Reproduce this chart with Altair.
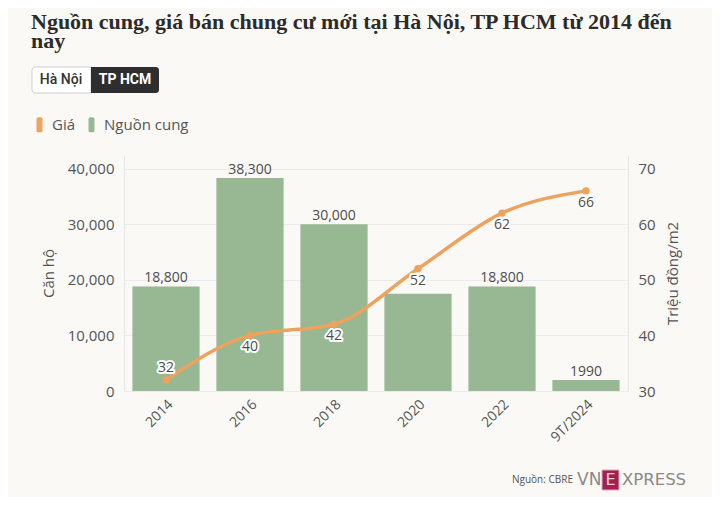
import altair as alt
import pandas as pd

years = ["2014", "2016", "2018", "2020", "2022", "9T/2024"]
supply = [18800, 38300, 30000, 17500, 18800, 1990]
supply_labels = ["18,800", "38,300", "30,000", "", "18,800", "1990"]
price = [32, 40, 42, 52, 62, 66]
series = ["Giá", "Nguồn cung"]
colors = ["#eea35e", "#97b893"]

title_lines = ["Nguồn cung, giá bán chung cư mới tại Hà Nội, TP HCM từ 2014 đến", "nay"]
buttons = ["Hà Nội", "TP HCM"]
source = "Nguồn: CBRE"

df = pd.DataFrame({
    "year": years,
    "supply": supply,
    "supply_label": supply_labels,
    "price": price,
    "series": ["Nguồn cung"] * len(years),
})

FONT = "Open Sans"
TXT = "#4d4d4d"

x = alt.X("year:N", sort=years, title=None,
          scale=alt.Scale(paddingInner=0.2, paddingOuter=0.1),
          axis=alt.Axis(labelAngle=-45, labelFontSize=14, labelPadding=6,
                        ticks=False, domain=False, grid=False))

rect_path = "M-0.4,-0.75 Q-0.4,-1 -0.15,-1 H0.15 Q0.4,-1 0.4,-0.75 V0.75 Q0.4,1 0.15,1 H-0.15 Q-0.4,1 -0.4,0.75 Z"

y_left = alt.Y("supply:Q", title="Căn hộ",
               scale=alt.Scale(domain=[0, 42450], nice=False),
               axis=alt.Axis(values=[0, 10000, 20000, 30000, 40000], format=",d",
                             labelFontSize=15, labelPadding=10, ticks=False,
                             domainColor="#e6e6e6", gridColor="#ebebeb",
                             titleFontSize=15, titleFontWeight="normal",
                             titleColor="#555", titleAngle=-90, titleX=-76, titleY=118,
                             titleAlign="center", titleBaseline="middle"))

bars = alt.Chart(df).mark_bar().encode(
    x=x, y=y_left,
    color=alt.Color("series:N",
                    scale=alt.Scale(domain=series, range=colors),
                    legend=alt.Legend(title=None, orient="none", direction="horizontal",
                                      legendX=-92, legendY=-38,
                                      symbolType=rect_path, symbolSize=225,
                                      symbolStrokeWidth=0, labelFontSize=15,
                                      labelColor="#555", labelFont=FONT,
                                      labelOffset=5, columnPadding=8)),
)
bar_text = alt.Chart(df).mark_text(fontSize=14, font=FONT, color=TXT, dy=-4,
                                   baseline="alphabetic").encode(
    x=x, y=alt.Y("supply:Q"), text="supply_label:N")

left = alt.layer(bars, bar_text)

y_right = alt.Y("price:Q", title="Triệu đồng/m2",
                scale=alt.Scale(domain=[30, 72.45], nice=False),
                axis=alt.Axis(orient="right", values=[30, 40, 50, 60, 70],
                              labelFontSize=15, labelPadding=10, ticks=False,
                              grid=False, domainColor="#e6e6e6",
                              titleFontSize=15, titleFontWeight="normal",
                              titleColor="#555", titleAngle=-90, titleX=44, titleY=118,
                              titleAlign="center", titleBaseline="middle"))

LINE = "#eda25e"
line = alt.Chart(df).mark_line(color=LINE, strokeWidth=3.5, interpolate="monotone").encode(x=x, y=y_right)
pts = alt.Chart(df).mark_circle(color=LINE, size=55, opacity=1).encode(x=x, y=alt.Y("price:Q"))


def price_labels(flt, dy):
    base = alt.Chart(df).transform_filter(flt)
    halo = base.mark_text(fontSize=14, font=FONT, color="white", stroke="white",
                          strokeWidth=4, strokeJoin="round", dy=dy, baseline="middle").encode(
        x=x, y=alt.Y("price:Q"), text="price:Q")
    txt = base.mark_text(fontSize=14, font=FONT, color=TXT, dy=dy, baseline="middle").encode(
        x=x, y=alt.Y("price:Q"), text="price:Q")
    return [halo, txt]


right = alt.layer(line, pts,
                  *price_labels("datum.year == '2014'", -12),
                  *price_labels("datum.year != '2014'", 12))

one = pd.DataFrame({"k": [0]})
dec = alt.Chart(one)

title = dec.mark_text(text=title_lines, font="Liberation Serif", fontWeight="bold",
                      fontSize=22, color="#2b2b2b", align="left", baseline="alphabetic",
                      lineHeight=18.5).encode(x=alt.value(-93), y=alt.value(-126))

btn1 = dec.mark_rect(fill="white", stroke="#cfcfcf", strokeWidth=1,
                     cornerRadiusTopLeft=3, cornerRadiusBottomLeft=3).encode(
    x=alt.value(-92), x2=alt.value(-33), y=alt.value(-88), y2=alt.value(-62))
btn2 = dec.mark_rect(fill="#2e2e2e", cornerRadiusTopRight=3, cornerRadiusBottomRight=3).encode(
    x=alt.value(-33), x2=alt.value(35), y=alt.value(-88), y2=alt.value(-62))
btn1_t = dec.mark_text(text=buttons[0], font="Roboto", fontWeight=500, fontSize=14,
                       color="#333").encode(x=alt.value(-63), y=alt.value(-75))
btn2_t = dec.mark_text(text=buttons[1], font="Roboto", fontWeight="bold", fontSize=14,
                       color="white").encode(x=alt.value(1), y=alt.value(-75))

src_t = dec.mark_text(text=source, font=FONT, fontSize=10, color="#555", align="left").encode(
    x=alt.value(388), y=alt.value(325))
vn_t = dec.mark_text(text="VN", font="DejaVu Sans", fontSize=17, color="#8a8a8a",
                     align="left").encode(x=alt.value(453), y=alt.value(325))
ebox = dec.mark_rect(fill="#9f224e", stroke="#e8a7c0", strokeWidth=1).encode(
    x=alt.value(478), x2=alt.value(495), y=alt.value(315), y2=alt.value(335))
e_t = dec.mark_text(text="E", font="DejaVu Sans", fontSize=16, color="#f6c9da").encode(
    x=alt.value(486.5), y=alt.value(325))
xp_t = dec.mark_text(text="XPRESS", font="DejaVu Sans", fontSize=16.5, color="#8a8a8a",
                     align="left").encode(x=alt.value(498), y=alt.value(325))

chart = alt.layer(
    left, right, title, btn1, btn2, btn1_t, btn2_t, src_t, vn_t, ebox, e_t, xp_t
).resolve_scale(y="independent").properties(
    width=504, height=236,
    autosize=alt.AutoSizeParams(type="none"),
    padding={"left": 116, "top": 147, "right": 84, "bottom": 106},
    background="#faf9f6",
).configure_view(stroke=None).configure_axis(
    labelFont=FONT, titleFont=FONT, labelColor="#555"
)

chart.save("out.html", embed_options={"renderer": "svg", "actions": False})
